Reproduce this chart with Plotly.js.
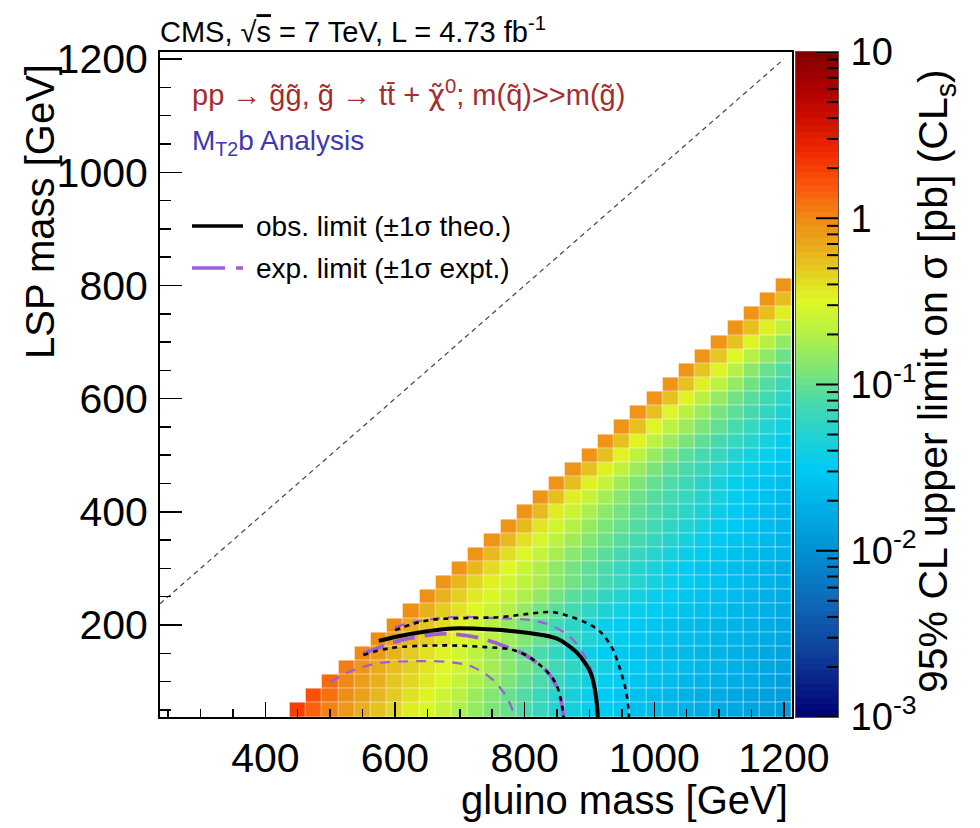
<!DOCTYPE html>
<html><head><meta charset="utf-8">
<script src="https://cdn.plot.ly/plotly-3.0.1.min.js"></script>
<style>html,body{margin:0;padding:0;background:#fff}#chart{width:980px;height:828px}</style>
</head><body><div id="chart"></div>
<script>
// ---- grid categories ----
const gluinoMass = [450,475,500,525,550,575,600,625,650,675,700,725,750,775,800,825,850,875,900,925,950,975,1000,1025,1050,1075,1100,1125,1150,1175,1200];
const lspMass = [50,75,100,125,150,175,200,225,250,275,300,325,350,375,400,425,450,475,500,525,550,575,600,625,650,675,700,725,750,775,800];

// ---- log10 of the 95% CL upper limit on sigma [pb]; one array per LSP row,
//      first entry = gluino mass (LSP + 400), then increasing gluino mass up to 1200 ----
const lim050 = [0.30,0.15,0.03,-0.07,-0.18,-0.27,-0.36,-0.45,-0.53,-0.63,-0.73,-0.82,-0.92,-1.00,-1.10,-1.20,-1.30,-1.38,-1.45,-1.50,-1.55,-1.60,-1.64,-1.68,-1.72,-1.75,-1.78,-1.80,-1.83,-1.86,-1.90];
const lim075 = [0.22,0.10,-0.02,-0.12,-0.22,-0.30,-0.40,-0.48,-0.58,-0.68,-0.80,-0.90,-1.00,-1.08,-1.18,-1.28,-1.36,-1.44,-1.50,-1.55,-1.59,-1.63,-1.67,-1.71,-1.74,-1.77,-1.80,-1.83,-1.86,-1.89];
const lim100 = [0.12,0.00,-0.10,-0.19,-0.28,-0.36,-0.44,-0.52,-0.62,-0.72,-0.82,-0.92,-1.02,-1.10,-1.20,-1.30,-1.38,-1.45,-1.50,-1.55,-1.59,-1.63,-1.67,-1.70,-1.73,-1.76,-1.79,-1.83,-1.87];
const lim125 = [0.05,-0.06,-0.16,-0.25,-0.33,-0.41,-0.49,-0.57,-0.66,-0.76,-0.86,-0.96,-1.05,-1.14,-1.23,-1.32,-1.40,-1.47,-1.52,-1.56,-1.60,-1.63,-1.67,-1.70,-1.73,-1.77,-1.81,-1.85];
const lim150 = [0.00,-0.08,-0.20,-0.30,-0.40,-0.48,-0.56,-0.66,-0.78,-0.90,-1.00,-1.10,-1.22,-1.32,-1.42,-1.50,-1.53,-1.56,-1.60,-1.63,-1.65,-1.68,-1.70,-1.73,-1.76,-1.80,-1.84];
const lim175 = [-0.02,-0.12,-0.22,-0.32,-0.41,-0.49,-0.57,-0.67,-0.78,-0.90,-1.00,-1.10,-1.20,-1.30,-1.40,-1.48,-1.52,-1.55,-1.59,-1.62,-1.65,-1.68,-1.70,-1.73,-1.77,-1.82];
const lim200 = [-0.02,-0.17,-0.28,-0.38,-0.47,-0.56,-0.68,-0.82,-0.95,-1.05,-1.15,-1.25,-1.35,-1.43,-1.48,-1.52,-1.55,-1.59,-1.62,-1.65,-1.68,-1.70,-1.73,-1.77,-1.81];
const lim225 = [-0.03,-0.19,-0.31,-0.41,-0.50,-0.59,-0.70,-0.83,-0.95,-1.05,-1.14,-1.23,-1.32,-1.40,-1.46,-1.50,-1.54,-1.58,-1.61,-1.64,-1.67,-1.70,-1.74,-1.79];
const lim250 = [-0.04,-0.20,-0.33,-0.44,-0.53,-0.62,-0.72,-0.84,-0.95,-1.05,-1.13,-1.22,-1.30,-1.38,-1.45,-1.50,-1.54,-1.58,-1.61,-1.64,-1.68,-1.73,-1.77];
const lim275 = [-0.05,-0.22,-0.36,-0.47,-0.56,-0.65,-0.75,-0.86,-0.96,-1.04,-1.12,-1.20,-1.28,-1.36,-1.43,-1.49,-1.54,-1.58,-1.62,-1.66,-1.70,-1.76];
const lim300 = [-0.05,-0.23,-0.38,-0.50,-0.60,-0.72,-0.85,-0.95,-1.03,-1.10,-1.20,-1.28,-1.35,-1.44,-1.50,-1.55,-1.58,-1.62,-1.66,-1.70,-1.75];
const lim325 = [-0.05,-0.23,-0.39,-0.52,-0.63,-0.75,-0.87,-0.97,-1.05,-1.12,-1.20,-1.28,-1.36,-1.44,-1.50,-1.55,-1.59,-1.63,-1.67,-1.72];
const lim350 = [-0.05,-0.23,-0.40,-0.54,-0.66,-0.78,-0.89,-0.98,-1.06,-1.13,-1.21,-1.29,-1.37,-1.45,-1.51,-1.56,-1.60,-1.65,-1.70];
const lim375 = [-0.05,-0.23,-0.42,-0.57,-0.70,-0.82,-0.92,-1.00,-1.08,-1.15,-1.23,-1.31,-1.39,-1.47,-1.53,-1.58,-1.63,-1.69];
const lim400 = [-0.05,-0.24,-0.45,-0.60,-0.74,-0.85,-0.95,-1.03,-1.10,-1.17,-1.25,-1.34,-1.43,-1.50,-1.56,-1.61,-1.67];
const lim425 = [-0.05,-0.25,-0.46,-0.62,-0.77,-0.88,-0.98,-1.06,-1.13,-1.20,-1.28,-1.37,-1.46,-1.53,-1.59,-1.64];
const lim450 = [-0.05,-0.25,-0.47,-0.63,-0.79,-0.91,-1.01,-1.09,-1.17,-1.27,-1.37,-1.46,-1.52,-1.57,-1.61];
const lim475 = [-0.05,-0.26,-0.47,-0.65,-0.80,-0.93,-1.03,-1.11,-1.19,-1.28,-1.37,-1.45,-1.51,-1.57];
const lim500 = [-0.05,-0.26,-0.48,-0.66,-0.81,-0.94,-1.04,-1.12,-1.20,-1.29,-1.37,-1.45,-1.52];
const lim525 = [-0.05,-0.26,-0.48,-0.66,-0.80,-0.93,-1.03,-1.12,-1.20,-1.28,-1.37,-1.46];
const lim550 = [-0.05,-0.26,-0.49,-0.66,-0.79,-0.92,-1.01,-1.11,-1.20,-1.30,-1.40];
const lim575 = [-0.05,-0.27,-0.49,-0.67,-0.81,-0.94,-1.03,-1.12,-1.22,-1.32];
const lim600 = [-0.05,-0.27,-0.48,-0.67,-0.82,-0.96,-1.06,-1.15,-1.25];
const lim625 = [-0.05,-0.27,-0.47,-0.66,-0.83,-0.97,-1.08,-1.17];
const lim650 = [-0.05,-0.28,-0.48,-0.68,-0.86,-1.00,-1.09];
const lim675 = [-0.05,-0.29,-0.50,-0.70,-0.85,-0.98];
const lim700 = [-0.05,-0.27,-0.48,-0.68,-0.84];
const lim725 = [-0.05,-0.26,-0.47,-0.65];
const lim750 = [-0.05,-0.25,-0.46];
const lim775 = [-0.05,-0.25];
const lim800 = [-0.05];

// ---- exclusion contours (gluino mass, LSP mass) ----
const obsX = [575,600,650,690,750,800,830,850,865,880,892,901,907,911,913];
const obsY = [172,179,189,194,192,187,182,176,166,152,135,118,95,65,37.5];
const obsUpX = [600,625,654,700,762,808,840,865,895,915,927,937,944,950,955,959,961];
const obsUpY = [191,201,209,212,214,220,223,217,204,190,174,155,133,112,91,65,37.5];
const obsDnX = [551,592,669,740,782,808,824,833,848,856,860];
const obsDnY = [147,159,164,161,156,143,129,120,97,68,37.5];
const expX = [551,580,608,640,665,690,731,773,800,813,829,844,855,860];
const expY = [150,162,173,180,184,184,177,161,148,138,124,103,73,37.5];
const expUpX = [600,628,690,758,808,839,870,890,901,908,912,914];
const expUpY = [196,205,214,212,209,200,179,150,126,95,60,37.5];
const expDnX = [500,535,577,628,680,720,751,772,783,785];
const expDnY = [99,120,133,136,135,126,103,73,45,37.5];

const colorTickVals = [-3,-2,-1,0,1];
const colorTickText = ['10<sup>-3</sup>','10<sup>-2</sup>','10<sup>-1</sup>','1','10'];

// ---- build table ----
const rows = [lim050,lim075,lim100,lim125,lim150,lim175,lim200,lim225,lim250,lim275,lim300,lim325,lim350,lim375,lim400,lim425,lim450,lim475,lim500,lim525,lim550,lim575,lim600,lim625,lim650,lim675,lim700,lim725,lim750,lim775,lim800];
const z = rows.map((r, j) => gluinoMass.map((g, i) => (i >= j ? r[i - j] : null)));

// colour-bar gradient (a scale, not data) and its log-spaced minor ticks
const nBands = 100;
const cbY = Array.from({length:nBands}, (_, k) => -3 + (k + 0.5) * 4 / nBands);
const cbZ = cbY.map(v => [v]);
const minorVals = [];
for (let d = -3; d < 1; d++) for (let k = 2; k <= 9; k++) minorVals.push(d + Math.log10(k));

const FONT = 'Liberation Sans, Arial, Helvetica, sans-serif';
const purple = 'rgb(155,95,215)';

const colorscale = [
 [0,'rgb(0,0,115)'],[0.1,'rgb(15,65,155)'],[0.175,'rgb(15,105,185)'],[0.25,'rgb(0,145,212)'],
 [0.325,'rgb(0,180,232)'],[0.375,'rgb(0,203,242)'],[0.425,'rgb(35,210,210)'],[0.475,'rgb(75,218,170)'],
 [0.525,'rgb(130,230,115)'],[0.575,'rgb(180,240,70)'],[0.625,'rgb(222,248,38)'],[0.65,'rgb(225,225,35)'],
 [0.7,'rgb(232,178,30)'],[0.75,'rgb(240,138,20)'],[0.8,'rgb(250,85,10)'],[0.85,'rgb(240,40,0)'],
 [0.9,'rgb(205,15,0)'],[0.95,'rgb(170,0,0)'],[1,'rgb(128,0,0)']
];

const W = 980, H = 828, L = 160, R = 792, T = 52, B = 717, CB0 = 796, CB1 = 838;
const PW = CB1 - L;               // paper width (plot area + colour bar)
const px2xp = p => (p - L) / PW;
const px2yp = p => (B - p) / (B - T);

const data = [
 {type:'heatmap', x:gluinoMass, y:lspMass, z:z, zmin:-3, zmax:1, colorscale:colorscale,
  xgap:0.5, ygap:0.5, hoverongaps:false, showscale:false, xaxis:'x', yaxis:'y'},
 {type:'heatmap', x:[0], y:cbY, z:cbZ, zmin:-3, zmax:1, colorscale:colorscale, showscale:false,
  xaxis:'x2', yaxis:'y2', hoverinfo:'skip'},
 {type:'scatter', mode:'lines', x:[237.5,1200], y:[237.5,1200], line:{color:'rgb(70,70,70)', width:1.2, dash:'5px,4px'}, hoverinfo:'skip'},
 {type:'scatter', mode:'lines', x:expDnX, y:expDnY, line:{color:purple, width:2.2, dash:'10px,8px', shape:'spline'}},
 {type:'scatter', mode:'lines', x:expUpX, y:expUpY, line:{color:purple, width:2.2, dash:'10px,8px', shape:'spline'}},
 {type:'scatter', mode:'lines', x:expX, y:expY, line:{color:purple, width:3.8, dash:'22px,10px', shape:'spline'}},
 {type:'scatter', mode:'lines', x:obsUpX, y:obsUpY, line:{color:'black', width:2.6, dash:'5px,5px', shape:'spline'}},
 {type:'scatter', mode:'lines', x:obsDnX, y:obsDnY, line:{color:'black', width:2.6, dash:'5px,5px', shape:'spline'}},
 {type:'scatter', mode:'lines', x:obsX, y:obsY, line:{color:'black', width:4, shape:'spline'}}
];

const shapes = [
 {type:'line', xref:'paper', yref:'paper', x0:px2xp(192), x1:px2xp(243), y0:px2yp(226), y1:px2yp(226), line:{color:'black', width:3.5}},
 {type:'line', xref:'paper', yref:'paper', x0:px2xp(192), x1:px2xp(243), y0:px2yp(268), y1:px2yp(268), line:{color:purple, width:3.5, dash:'33px,11px,7px,60px'}}
];
// colour-bar tick marks drawn explicitly on top (major long, minor short)
colorTickVals.forEach(v => shapes.push({type:'line', xref:'paper', yref:'y2', x0:px2xp(CB1-22), x1:px2xp(CB1), y0:v, y1:v, line:{color:'black', width:2}, layer:'above'}));
minorVals.forEach(v => shapes.push({type:'line', xref:'paper', yref:'y2', x0:px2xp(CB1-11), x1:px2xp(CB1), y0:v, y1:v, line:{color:'black', width:2}, layer:'above'}));

const annotations = [
 {text:'pp → g\u0303g\u0303, g\u0303 → tt\u0304 + <span style="font-family:DejaVu Sans">χ\u0303</span><sup>0</sup>; m(q\u0303)>>m(g\u0303)', xref:'paper', yref:'paper', x:px2xp(190), y:px2yp(93), xanchor:'left', yanchor:'middle', showarrow:false, font:{family:FONT, size:29, color:'rgb(165,45,45)'}},
 {text:'M<sub>T2</sub>b Analysis', xref:'paper', yref:'paper', x:px2xp(190), y:px2yp(142), xanchor:'left', yanchor:'middle', showarrow:false, font:{family:FONT, size:28, color:'rgb(65,55,175)'}},
 {text:'obs. limit (±1σ theo.)', xref:'paper', yref:'paper', x:px2xp(254), y:px2yp(226), xanchor:'left', yanchor:'middle', showarrow:false, font:{family:FONT, size:28, color:'black'}},
 {text:'exp. limit (±1σ expt.)', xref:'paper', yref:'paper', x:px2xp(254), y:px2yp(268), xanchor:'left', yanchor:'middle', showarrow:false, font:{family:FONT, size:28, color:'black'}},
 {text:'LSP mass [GeV]', xref:'paper', yref:'paper', x:px2xp(40), y:px2yp(212), xanchor:'center', yanchor:'middle', textangle:-90, showarrow:false, font:{family:FONT, size:40, color:'black'}},
 {text:'gluino mass [GeV]', xref:'paper', yref:'paper', x:px2xp(790), y:px2yp(800), xanchor:'right', yanchor:'middle', showarrow:false, font:{family:FONT, size:40, color:'black'}},
 {text:'95% CL upper limit on σ [pb] (CL<sub>s</sub>)', xref:'paper', yref:'paper', x:px2xp(936), y:px2yp(381), xanchor:'center', yanchor:'middle', textangle:-90, showarrow:false, font:{family:FONT, size:41, color:'black'}}
];

const axisCommon = {showgrid:false, zeroline:false, showline:true, linecolor:'black', linewidth:2, mirror:true,
 ticks:'inside', tickcolor:'black', tickwidth:1.5, tickfont:{family:FONT, size:41, color:'black'}, layer:'above traces'};

const layout = {
 width:W, height:H, paper_bgcolor:'white', plot_bgcolor:'white', showlegend:false,
 margin:{l:L, r:W-CB1, t:T, b:H-B, pad:0},
 font:{family:FONT, color:'black'},
 title:{text:'CMS, √<span style="text-decoration:overline">s</span> = 7 TeV, L = 4.73 fb<sup>-1</sup>', x:L/W, xref:'container', xanchor:'left', y:1-32/H, yref:'container', yanchor:'middle', font:{family:FONT, size:29, color:'black'}},
 xaxis:Object.assign({}, axisCommon, {domain:[0, px2xp(R)], anchor:'y', range:[237.5,1212.5], tick0:0, dtick:200, ticklen:15, ticklabelstandoff:4,
  minor:{dtick:50, tick0:0, ticks:'inside', ticklen:8, tickcolor:'black', tickwidth:1.5, showgrid:false}}),
 yaxis:Object.assign({}, axisCommon, {domain:[0,1], anchor:'x', range:[37.5,1212.5], tick0:0, dtick:200, ticklen:22, ticklabelstandoff:2,
  minor:{dtick:50, tick0:0, ticks:'inside', ticklen:11, tickcolor:'black', tickwidth:1.5, showgrid:false}}),
 xaxis2:{domain:[px2xp(CB0), 1], anchor:'y2', range:[-0.5,0.5], showticklabels:false, ticks:'', showgrid:false, zeroline:false,
  showline:true, linecolor:'#555', linewidth:1, mirror:true, layer:'above traces'},
 yaxis2:{domain:[0,1], anchor:'x2', side:'right', range:[-3,1], showgrid:false, zeroline:false, layer:'above traces',
  showline:true, linecolor:'#555', linewidth:1, mirror:true,
  tickmode:'array', tickvals:colorTickVals, ticktext:colorTickText, ticks:'',
  ticklabelstandoff:4, tickfont:{family:FONT, size:38, color:'black'}},
 shapes:shapes, annotations:annotations
};

Plotly.newPlot('chart', data, layout, {displayModeBar:false, staticPlot:true});
</script>
</body></html>
